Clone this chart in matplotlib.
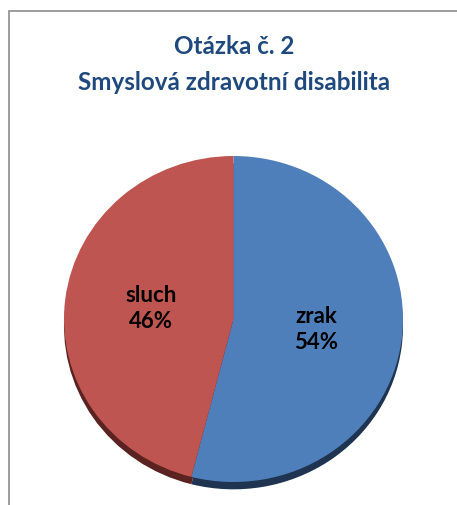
import numpy as np
import matplotlib.pyplot as plt
from matplotlib.patches import Rectangle

labels = ['zrak', 'sluch']
values = [54, 46]
colors = ['#4F7FBA', '#BE5550']
shadow_colors = ['#1E3450', '#5A2220']

plt.rcParams['font.family'] = ['Lato', 'DejaVu Sans']

W, H = 457, 505
fig = plt.figure(figsize=(W / 100, H / 100), dpi=100)

# chart border
fig.patches.append(Rectangle((9 / W, -0.1), 1.2, 1 - 11 / H + 0.1,
                             transform=fig.transFigure, fill=False,
                             edgecolor='#8C8C8C', linewidth=1.2))

fig.text(234 / W, 1 - 47 / H, 'Otázka č. 2', ha='center', va='center',
         fontsize=17.5, fontweight='bold', color='#1F497D')
fig.text(234 / W, 1 - 83 / H, 'Smyslová zdravotní disabilita', ha='center', va='center',
         fontsize=17.5, fontweight='bold', color='#1F497D')

# pie is slightly wider than tall
cx, cy, rx, ry = 233.5, 319, 169.5, 163
ax = fig.add_axes([(cx - rx) / W, (H - cy - ry) / H, 2 * rx / W, 2 * ry / H])

ax.pie(values, colors=shadow_colors, startangle=90, counterclock=False,
       center=(0, -0.045), wedgeprops=dict(linewidth=0))
ax.pie(values, colors=colors, startangle=90, counterclock=False,
       wedgeprops=dict(linewidth=0))

# labels inside the wedges
total = sum(values)
start = 90.0
for lab, v in zip(labels, values):
    span = v / total * 360
    mid = np.deg2rad(start - span / 2)
    start -= span
    ax.text(0.49 * np.cos(mid), 0.5 * np.sin(mid),
            f'{lab}\n{v}%', ha='center', va='center', fontsize=16,
            fontweight='bold', color='black', linespacing=1.3)

ax.set_xlim(-1, 1)
ax.set_ylim(-1, 1)
ax.set_aspect('auto')
ax.axis('off')

fig.savefig('out.png', dpi=100)
